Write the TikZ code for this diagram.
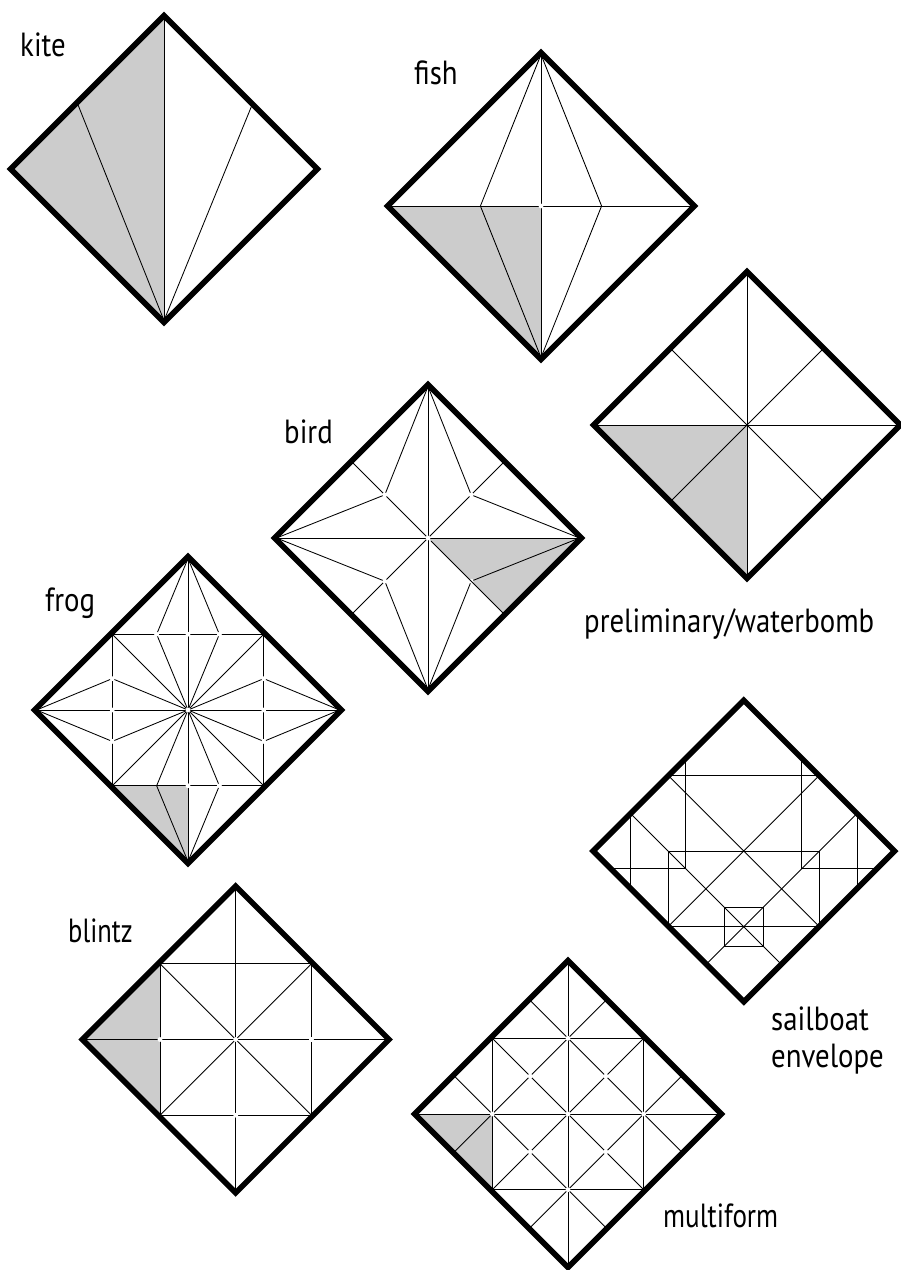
\documentclass[tikz,border=0pt]{standalone}
\usepackage{graphicx}
\usepackage{fontspec}
\setmainfont[FakeStretch=0.86]{PT Sans}
\definecolor{foldgrey}{gray}{0.8}
\tikzset{
  edge/.style={line width=5.6pt,line join=miter,miter limit=10},
  fold/.style={line width=0.85pt,black},
  area/.style={fill=foldgrey,draw=none},
  gap/.style={fill=white,draw=none},
  unit/.style={x=151.5pt,y=-151.5pt},
  lab/.style={anchor=base west,inner sep=0pt,font=\fontsize{33.5}{33.5}\selectfont}
}
\newcommand{\gapdot}[1]{\fill[gap] #1 circle (2.4pt);}
\newcommand{\sq}{(0,-1.012) -- (1.012,0) -- (0,1.012) -- (-1.012,0) -- cycle}
\begin{document}
\begin{tikzpicture}[x=1pt,y=-1pt]
\useasboundingbox (0,0) rectangle (901,1270);
\fill[white] (0,0) rectangle (901,1270);
% kite
\begin{scope}[shift={(164,169)},unit]
\fill[area] (0,-1) -- (-1,0) -- (0,1) -- cycle;
\draw[fold] (0,-1) -- (0,1);
\draw[fold] (0,1) -- (-.57,-.43) (0,1) -- (.58,-.42);
\draw[edge] \sq;
\end{scope}
% fish
\begin{scope}[shift={(541,206)},unit]
\fill[area] (-1,0) -- (0,0) -- (0,1) -- cycle;
\draw[fold] (0,-1) -- (0,1) (-1,0) -- (1,0);
\draw[fold] (0,-1) -- (-.4,0) -- (0,1) (0,-1) -- (.4,0) -- (0,1);
\gapdot{(0,0)}
\draw[edge] \sq;
\end{scope}
% preliminary / waterbomb
\begin{scope}[shift={(747,425)},unit]
\fill[area] (-1,0) -- (0,0) -- (0,1) -- cycle;
\draw[fold] (0,-1) -- (0,1) (-1,0) -- (1,0);
\draw[fold] (-.5,-.5) -- (.5,.5) (.5,-.5) -- (-.5,.5);
\draw[edge] \sq;
\end{scope}
% bird
\begin{scope}[shift={(428,538)},unit]
\fill[area] (0,0) -- (1,0) -- (.5,.5) -- cycle;
\draw[fold] (0,-1) -- (0,1) (-1,0) -- (1,0);
\draw[fold] (-.5,-.5) -- (0,0) (.5,-.5) -- (-.5,.5);
\draw[fold] (0,-1) -- (-.285,-.285) -- (-1,0) -- (-.285,.285) -- (0,1) -- (.285,.285) -- (1,0) -- (.285,-.285) -- cycle;
\foreach \p in {(-.285,-.285),(.285,-.285),(-.285,.285),(.285,.285),(0,0)} {\gapdot{\p}}
\draw[fold] (.02,.02) -- (.5,.5);
\draw[edge] \sq;
\end{scope}
% frog
\begin{scope}[shift={(188,710)},unit]
\fill[area] (-.5,.5) -- (0,.5) -- (0,1) -- cycle;
\draw[fold] (0,-1) -- (0,1) (-1,0) -- (1,0);
\draw[fold] (-.5,-.5) rectangle (.5,.5);
\draw[fold] (-.5,-.5) -- (.5,.5) (.5,-.5) -- (-.5,.5);
\foreach \a/\b in {-.207/-.5,.207/-.5,-.207/.5,.207/.5,-.5/-.207,.5/-.207,-.5/.207,.5/.207} {\draw[fold] (0,0) -- (\a,\b);}
\draw[fold] (0,-1) -- (-.207,-.5) (0,-1) -- (.207,-.5) (0,1) -- (-.207,.5) (0,1) -- (.207,.5);
\draw[fold] (-1,0) -- (-.5,-.207) (-1,0) -- (-.5,.207) (1,0) -- (.5,-.207) (1,0) -- (.5,.207);
\foreach \p in {(0,0),(0,-.5),(0,.5),(-.5,0),(.5,0),(-.207,-.5),(.207,-.5),(.207,.5),(-.5,-.207),(.5,-.207),(-.5,.207),(.5,.207)} {\gapdot{\p}}
\draw[edge] \sq;
\end{scope}
% sailboat
\begin{scope}[shift={(743.8,851)},unit]
\draw[fold] (-.5,-.5) -- (.5,-.5) (-.5,0) -- (.5,0) (-.5,.5) -- (.5,.5);
\draw[fold] (-.5,0) -- (-.5,.5) (.5,0) -- (.5,.5);
\draw[fold] (-.383,-.617) -- (-.383,.115) -- (-.885,.115);
\draw[fold] (.383,-.617) -- (.383,.115) -- (.885,.115);
\draw[fold] (-.75,-.25) -- (-.75,.25) (.75,-.25) -- (.75,.25);
\draw[fold] (-.75,-.25) -- (.25,.75) (.75,-.25) -- (-.25,.75);
\draw[fold] (-.5,-.5) -- (.5,.5) (.5,-.5) -- (-.5,.5);
\draw[fold] (-.13,.37) rectangle (.13,.63);
\draw[edge] (0,-.995) -- (.995,0) -- (0,.995) -- (-.995,0) -- cycle;
\end{scope}
% blintz
\begin{scope}[shift={(235.7,1039.5)},unit]
\fill[area] (-1,0) -- (-.5,-.5) -- (-.5,.5) -- cycle;
\draw[fold] (0,-1) -- (0,1) (-1,0) -- (1,0);
\draw[fold] (-.5,-.5) rectangle (.5,.5);
\draw[fold] (-.5,-.5) -- (.5,.5) (.5,-.5) -- (-.5,.5);
\foreach \p in {(0,0),(0,.5),(.5,0),(-.5,0)} {\gapdot{\p}}
\draw[edge] \sq;
\end{scope}
% multiform
\begin{scope}[shift={(568,1114)},unit]
\fill[area] (-1,0) -- (-.5,0) -- (-.5,.5) -- cycle;
\draw[fold] (0,-1) -- (0,1) (-1,0) -- (1,0);
\draw[fold] (-.5,-.5) rectangle (.5,.5);
\draw[fold] (-.5,-.5) -- (.5,.5) (.5,-.5) -- (-.5,.5);
\draw[fold] (-.75,-.25) -- (.25,.75) (.75,-.25) -- (-.25,.75);
\draw[fold] (-.25,-.75) -- (.75,.25) (.25,-.75) -- (-.75,.25);
\foreach \p in {(0,0),(0,-.5),(0,.5),(-.5,0),(.5,0),(-.25,-.25),(.25,-.25),(-.25,.25),(.25,.25)} {\gapdot{\p}}
\draw[edge] \sq;
\end{scope}
% labels
\node[lab] (lkite) at (20,56.5) {kite};
\node[lab] (lfish) at (414,84) {fish};
\node[lab] (lbird) at (284,443) {bird};
\node[lab] (lfrog) at (45,611) {frog};
\node[lab] (lprelim) at (584,632.5) {preliminary/waterbomb};
\node[lab] (lsail) at (771,1030.5) {sailboat};
\node[lab] (lenv) at (771,1067.5) {envelope};
\node[lab] (lblintz) at (68,942.5) {\scalebox{.92}[1]{blintz}};
\node[lab] (lmulti) at (663,1227) {\scalebox{.94}[1]{multiform}};
\end{tikzpicture}
\end{document}
